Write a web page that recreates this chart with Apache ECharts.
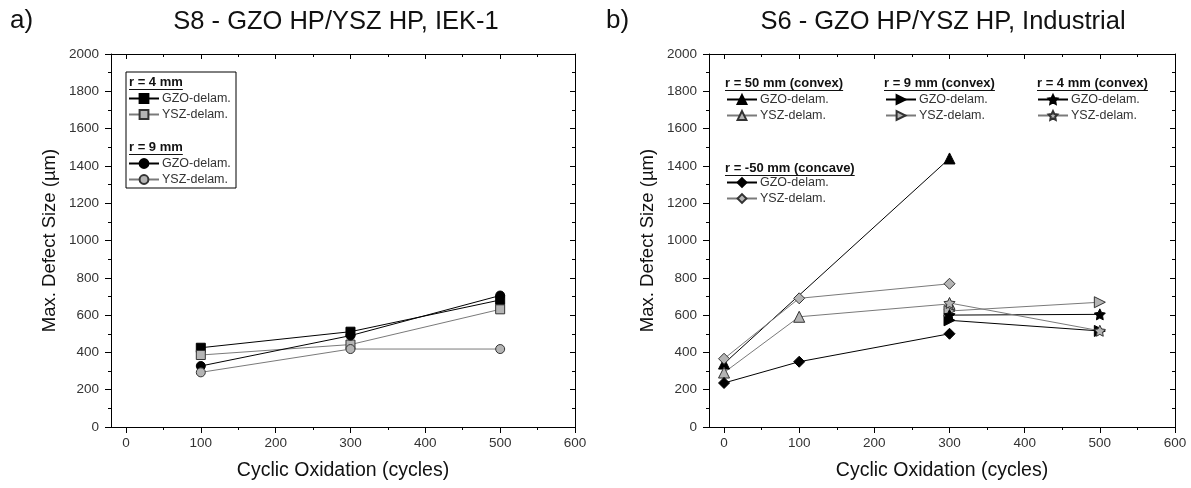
<!DOCTYPE html>
<html><head><meta charset="utf-8">
<script src="https://cdn.jsdelivr.net/npm/echarts@6/dist/echarts.min.js"></script>
<style>html,body{margin:0;padding:0;background:#fff}#c{width:1191px;height:488px}</style>
</head><body><div id="c"></div>
<script>
// ---------- data ----------
const xMajor = [0, 100, 200, 300, 400, 500, 600];
const xMinor = [50, 150, 250, 350, 450, 550];

// panel a) S8 - IEK-1
const aX = [100, 300, 500];
const aGzoR4 = [425, 511, 681];
const aYszR4 = [386, 442, 631];
const aGzoR9 = [327, 490, 705];
const aYszR9 = [293, 418, 418];

// panel b) S6 - Industrial
const bX50Gzo = [0, 300];
const bGzo50 = [340, 1440];
const bX50Ysz = [0, 100, 300];
const bYsz50 = [292, 591, 660];
const bXSmall = [300, 500];
const bGzo9 = [572, 515];
const bYsz9 = [622, 669];
const bGzo4 = [600, 604];
const bYsz4 = [665, 516];
const bXm50 = [0, 100, 300];
const bGzoM50 = [236, 350, 500];
const bYszM50 = [366, 690, 768];

// ---------- style ----------
const FONT = '"Liberation Sans", Arial, sans-serif';
const BLACK = '#000';
const GRAY = '#b4b4b4';
const GRAYLINE = '#7a7a7a';
const STAR = 'path://M0,-10L2.94,-4.05L9.51,-3.09L4.76,1.55L5.88,8.09L0,5L-5.88,8.09L-4.76,1.55L-9.51,-3.09L-2.94,-4.05Z';

function pairs(xs, ys) { return xs.map((x, i) => [x, ys[i]]); }
function mk(name, g, xs, ys, symbol, size, gray, rotate) {
  return {
    name, type: 'line', xAxisIndex: g * 4, yAxisIndex: g * 2,
    data: pairs(xs, ys), symbol, symbolSize: size, symbolRotate: rotate || 0,
    showSymbol: true, animation: false,
    lineStyle: { color: gray ? GRAYLINE : BLACK, width: 1 },
    itemStyle: gray ? { color: GRAY, borderColor: '#333', borderWidth: 1 } : { color: BLACK, borderColor: BLACK, borderWidth: 1 },
    emphasis: { disabled: true }
  };
}

const series = [
  mk('GZO-delam. (a4)', 0, aX, aGzoR4, 'rect', 9, false),
  mk('YSZ-delam. (a4)', 0, aX, aYszR4, 'rect', 9, true),
  mk('GZO-delam. (a9)', 0, aX, aGzoR9, 'circle', 9, false),
  mk('YSZ-delam. (a9)', 0, aX, aYszR9, 'circle', 9, true),
  mk('GZO-delam. (b50)', 1, bX50Gzo, bGzo50, 'triangle', 11, false),
  mk('YSZ-delam. (b50)', 1, bX50Ysz, bYsz50, 'triangle', 11, true),
  mk('GZO-delam. (b9)', 1, bXSmall, bGzo9, 'triangle', 11, false, -90),
  mk('YSZ-delam. (b9)', 1, bXSmall, bYsz9, 'triangle', 11, true, -90),
  mk('GZO-delam. (b4)', 1, bXSmall, bGzo4, STAR, 11, false),
  mk('YSZ-delam. (b4)', 1, bXSmall, bYsz4, STAR, 11, true),
  mk('GZO-delam. (bm50)', 1, bXm50, bGzoM50, 'diamond', 11, false),
  mk('YSZ-delam. (bm50)', 1, bXm50, bYszM50, 'diamond', 11, true)
];

function xAxes(g) {
  const base = { gridIndex: g, type: 'value', min: -20, max: 600, splitLine: { show: false } };
  return [
    Object.assign({}, base, {
      position: 'bottom',
      axisLine: { show: true, onZero: false, lineStyle: { color: '#000', width: 1 } },
      axisTick: { show: true, customValues: xMajor, length: 6, inside: false, lineStyle: { color: '#000' } },
      axisLabel: { show: true, customValues: xMajor, color: '#333', fontSize: 13.5, fontFamily: FONT, margin: 9 },
      name: 'Cyclic Oxidation (cycles)', nameLocation: 'middle', nameGap: 34,
      nameTextStyle: { fontSize: 19.5, color: '#111', fontFamily: FONT }
    }),
    Object.assign({}, base, {
      position: 'bottom', axisLine: { show: false, onZero: false },
      axisTick: { show: true, customValues: xMinor, length: 3, lineStyle: { color: '#000' } },
      axisLabel: { show: false }
    }),
    Object.assign({}, base, {
      position: 'top',
      axisLine: { show: true, onZero: false, lineStyle: { color: '#000', width: 1 } },
      axisTick: { show: true, customValues: xMajor, length: 5, inside: true, lineStyle: { color: '#000' } },
      axisLabel: { show: false }
    }),
    Object.assign({}, base, {
      position: 'top', axisLine: { show: false, onZero: false },
      axisTick: { show: true, customValues: xMinor, length: 3, inside: true, lineStyle: { color: '#000' } },
      axisLabel: { show: false }
    })
  ];
}
function yAxes(g) {
  const base = { gridIndex: g, type: 'value', min: 0, max: 2000, interval: 200, splitLine: { show: false } };
  return [
    Object.assign({}, base, {
      position: 'left',
      axisLine: { show: true, onZero: false, lineStyle: { color: '#000', width: 1 } },
      axisTick: { show: true, length: 6, inside: false, lineStyle: { color: '#000' } },
      minorTick: { show: true, splitNumber: 2, length: 3, lineStyle: { color: '#000' } },
      axisLabel: { color: '#333', fontSize: 13.5, fontFamily: FONT, margin: 12, formatter: v => String(v) },
      name: 'Max. Defect Size (µm)', nameLocation: 'middle', nameGap: 52,
      nameTextStyle: { fontSize: 18.5, color: '#111', fontFamily: FONT }
    }),
    Object.assign({}, base, {
      position: 'right',
      axisLine: { show: true, onZero: false, lineStyle: { color: '#000', width: 1 } },
      axisTick: { show: true, length: 5, inside: true, lineStyle: { color: '#000' } },
      minorTick: { show: true, splitNumber: 2, length: 3, lineStyle: { color: '#000' } },
      axisLabel: { show: false }
    })
  ];
}

function legend(names, left, top) {
  return {
    data: names, left, top, orient: 'vertical',
    itemWidth: 30, itemHeight: 11, itemGap: 3, padding: 0,
    selectedMode: false,
    formatter: n => n.split(' (')[0],
    textStyle: { fontSize: 12.5, lineHeight: 11, color: '#333', fontFamily: FONT, padding: [0, 0, 0, -2] }
  };
}

// measure helper for header underlines
const mctx = document.createElement('canvas').getContext('2d');
function header(text, x, y) {
  const font = 'bold 13px ' + FONT;
  mctx.font = font;
  const w = mctx.measureText(text).width;
  return [
    { type: 'text', x, y, style: { text, font, fill: '#111', textVerticalAlign: 'middle', verticalAlign: 'middle' } },
    { type: 'line', shape: { x1: x, y1: y + 7.5, x2: x + w, y2: y + 7.5 }, style: { stroke: '#111', lineWidth: 1 } }
  ];
}
function label(text, x, y, size, align) {
  return { type: 'text', x, y, style: { text, font: size + 'px ' + FONT, fill: '#111',
    textAlign: align, align: align, textVerticalAlign: 'middle', verticalAlign: 'middle' } };
}

const graphics = [].concat(
  [{ type: 'rect', shape: { x: 126, y: 72, width: 110, height: 116 }, style: { fill: null, stroke: '#000', lineWidth: 1 } }],
  header('r = 4 mm', 129, 82),
  header('r = 9 mm', 129, 147),
  header('r = 50 mm (convex)', 725, 83),
  header('r = 9 mm (convex)', 884, 83),
  header('r = 4 mm (convex)', 1037, 83),
  header('r = -50 mm (concave)', 725, 168),
  [
    label('a)', 10, 21, 26, 'left'),
    label('b)', 606, 21, 26, 'left'),
    label('S8 - GZO HP/YSZ HP, IEK-1', 336, 22, 25.5, 'center'),
    label('S6 - GZO HP/YSZ HP, Industrial', 943, 22, 25.5, 'center')
  ]
);

const option = {
  animation: false,
  backgroundColor: '#fff',
  grid: [
    { left: 111, right: 616, top: 54, bottom: 61, containLabel: false },
    { left: 709, right: 16, top: 54, bottom: 61, containLabel: false }
  ],
  xAxis: xAxes(0).concat(xAxes(1)),
  yAxis: yAxes(0).concat(yAxes(1)),
  legend: [
    legend(['GZO-delam. (a4)', 'YSZ-delam. (a4)'], 128, 92),
    legend(['GZO-delam. (a9)', 'YSZ-delam. (a9)'], 128, 157),
    legend(['GZO-delam. (b50)', 'YSZ-delam. (b50)'], 726, 93),
    legend(['GZO-delam. (b9)', 'YSZ-delam. (b9)'], 885, 93),
    legend(['GZO-delam. (b4)', 'YSZ-delam. (b4)'], 1037, 93),
    legend(['GZO-delam. (bm50)', 'YSZ-delam. (bm50)'], 726, 176)
  ],
  graphic: { elements: graphics },
  series
};
const chart = echarts.init(document.getElementById('c'), null, { renderer: 'canvas' });
chart.setOption(option);
</script>
</body></html>
